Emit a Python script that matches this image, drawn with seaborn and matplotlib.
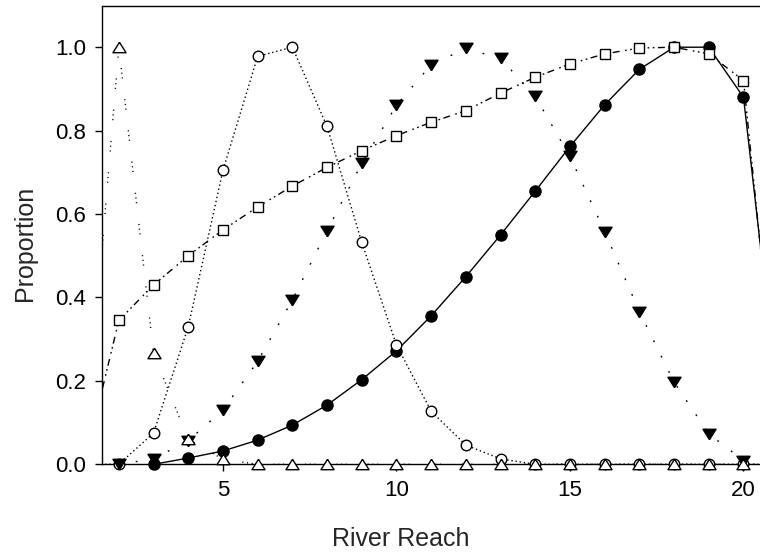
import matplotlib
matplotlib.use("Agg")
import matplotlib.pyplot as plt
import seaborn as sns
import numpy as np

# ---------------- data ----------------
reach_filled_circle = list(range(3, 22))
filled_circle = [0.0, 0.015, 0.032, 0.058, 0.094, 0.142, 0.203, 0.272, 0.356, 0.45,
                 0.55, 0.655, 0.762, 0.862, 0.947, 1.0, 1.0, 0.88, 0.15]

reach_square = list(range(1, 22))
open_square = [0.0, 0.345, 0.43, 0.50, 0.562, 0.617, 0.667, 0.712, 0.752, 0.788,
               0.82, 0.848, 0.89, 0.928, 0.96, 0.984, 0.998, 1.0, 0.984, 0.92, 0.10]

reach_open_circle = list(range(1, 22))
open_circle = [0.0, 0.0, 0.075, 0.33, 0.705, 0.978, 1.0, 0.81, 0.532, 0.286,
               0.127, 0.046, 0.013, 0.0, 0.0, 0.0, 0.0, 0.0, 0.0, 0.0, 0.0]

reach_filled_tri = list(range(2, 22))
filled_tri = [0.0, 0.013, 0.057, 0.13, 0.247, 0.394, 0.56, 0.722, 0.861, 0.958,
              0.997, 0.973, 0.882, 0.738, 0.558, 0.366, 0.197, 0.073, 0.009, 0.0]

reach_open_tri = list(range(1, 22))
open_tri = [0.0, 1.0, 0.266, 0.06, 0.012, 0.0, 0.0, 0.0, 0.0, 0.0,
            0.0, 0.0, 0.0, 0.0, 0.0, 0.0, 0.0, 0.0, 0.0, 0.0, 0.0]

x_ticks = [5, 10, 15, 20]
y_ticks = [0.0, 0.2, 0.4, 0.6, 0.8, 1.0]
x_label = "River Reach"
y_label = "Proportion"

# ---------------- style ----------------
sns.set_theme(style="ticks")
plt.rcParams["font.family"] = ["Liberation Sans", "DejaVu Sans"]

fig = plt.figure(figsize=(7.6, 5.58), dpi=100)
XMIN, XMAX = 1.5, 21.0
ax = fig.add_axes([101.5 / 760, (558 - 464.3) / 558, (778.2 - 101.5) / 760, (464.3 - 5.5) / 558])
ax.set_xlim(XMIN, XMAX)
ax.set_ylim(0, 1.1)

up_tri = [(0, 0.8), (-1, -0.8), (1, -0.8), (0, 0.8)]
down_tri = [(0, -0.8), (-1, 0.8), (1, 0.8), (0, -0.8)]

series = [
    # x, y, linestyle, marker, ms, facecolor, zorder
    (reach_filled_circle, filled_circle, "-", "o", 8.0, "black", 3),
    (reach_square, open_square, (0, (1.2, 2.5, 1.2, 2.5, 5, 4)), "s", 7.5, "white", 4),
    (reach_open_circle, open_circle, (0, (1, 2)), "o", 7.6, "white", 5),
    (reach_filled_tri, filled_tri, (0, (1.3, 11)), down_tri, 9.4, "black", 6),
    (reach_open_tri, open_tri, (0, (0.8, 2.6, 0.8, 2.6, 0.8, 15)), up_tri, 9.4, "white", 7),
]

for xs, ys, ls, mk, ms, fc, z in series:
    sns.lineplot(x=xs, y=ys, ax=ax, color="black", linestyle=ls, linewidth=1.0,
                 sort=False, zorder=2)
    xv = np.array(xs)
    yv = np.array(ys)
    keep = (xv >= XMIN) & (xv <= 20.6)
    sns.lineplot(x=xv[keep], y=yv[keep], ax=ax, color="black", linestyle="none",
                 marker=mk, markersize=ms, markerfacecolor=fc,
                 markeredgecolor="black", markeredgewidth=1.0,
                 sort=False, clip_on=False, zorder=z)

ax.set_xticks(x_ticks)
ax.set_yticks(y_ticks)
ax.set_yticklabels([f"{v:.1f}" for v in y_ticks])
ax.tick_params(axis="both", direction="out", length=5, width=1.0, colors="black",
               labelsize=16, pad=6)
for sp in ax.spines.values():
    sp.set_visible(True)
    sp.set_color("black")
    sp.set_linewidth(1.0)

ax.set_xlabel(x_label, fontsize=18)
ax.set_ylabel(y_label, fontsize=18)
ax.xaxis.set_label_coords(0.4426, -0.136)
ax.yaxis.set_label_coords(-0.096, 0.482)

fig.savefig("out.png", dpi=100)
